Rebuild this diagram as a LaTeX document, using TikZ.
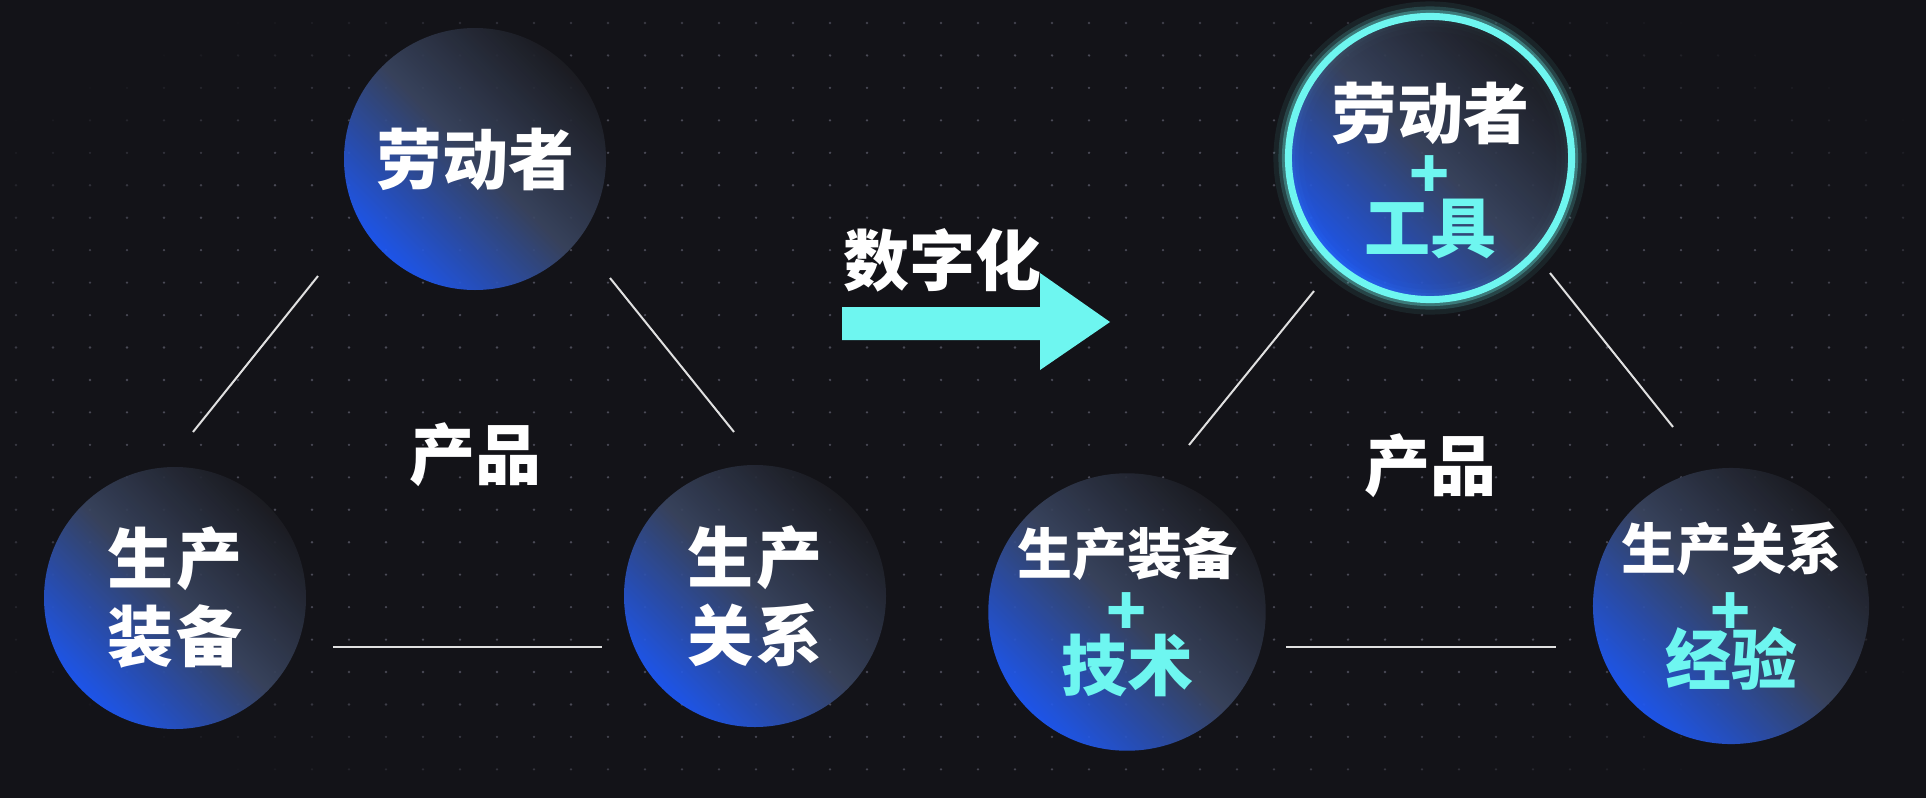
\documentclass[tikz,border=0pt]{standalone}
\usepackage{fontspec}
\newfontfamily\cjk{Noto Sans CJK SC}
\usetikzlibrary{positioning}

\definecolor{night}{HTML}{131318}
\definecolor{aqua}{HTML}{6EF6F0}
\definecolor{orbblue}{HTML}{1F5CFF}
\definecolor{orbgrey}{HTML}{3B4763}
\definecolor{orbdark}{HTML}{1C1D23}
\definecolor{speck}{HTML}{4A4A56}
\newcommand\cyantxt[1]{\textcolor{aqua}{#1}}

\begin{document}
\begin{tikzpicture}[x=1pt, y=-1pt,
  orb/.style={circle, minimum size=262pt, inner sep=0pt, align=center,
              shading=axis, top color=orbdark, bottom color=orbblue,
              middle color=orbgrey, shading angle=-45,
              fill opacity=.9, text opacity=1, text=white,
              font=\cjk\bfseries\fontsize{66}{78}\selectfont},
  lit/.style={orb, draw=aqua, line width=7pt,
              preaction={draw=aqua, line width=30pt, draw opacity=.08},
              preaction={draw=aqua, line width=20pt, draw opacity=.16},
              preaction={draw=aqua, line width=13pt, draw opacity=.3}},
  tag/.style={inner sep=0pt, text=white,
              font=\cjk\bfseries\fontsize{66}{78}\selectfont},
  link/.style={draw=white!88!black, line width=2pt}]
\useasboundingbox (0,0) rectangle (1926,798);
\fill[night] (0,0) rectangle (1926,798);
% dotted grid, fading out toward the corners
\foreach \i in {0,...,52}
  \foreach \j in {0,...,24} {
    \pgfmathsetmacro\dx{16+37*\i}
    \pgfmathsetmacro\dy{23+32.45*\j}
    \pgfmathsetmacro\fade{min(1,max(0,2.2-1.5*(((\dx-963)/963)^2+((\dy-399)/399)^2)))}
    \fill[speck, opacity=\fade] (\dx,\dy) circle[radius=1.3pt];
  }

% before
\node[orb] (c1) at (475,159) {劳动者};
\node[orb] (c2) at (175,598) {生\kern4pt 产\\装\kern4pt 备};
\node[orb] (c3) at (755,596) {生\kern4pt 产\\关\kern4pt 系};
\node[tag, below=132pt of c1] (p1) {产品};
\draw[link] ([shift={(-157,117)}]c1.center) -- ([shift={(18,-166)}]c2.center);
\draw[link] ([shift={(135,119)}]c1.center) -- ([shift={(-21,-164)}]c3.center);
\draw[link] ([shift={(158,49)}]c2.center) -- ([shift={(-153,51)}]c3.center);

% the arrow
\coordinate (shaft) at (842,307);
\fill[aqua] (shaft) -- (1040,307) -- (1040,273) -- (1110,322) -- (1040,370)
  -- (1040,340) -- (842,340) -- cycle;
\node[tag, above right=15pt and 1pt of shaft] (dg) {数字化};

% after
\node[lit] (c4) at (1430,158) {\rule{0pt}{82pt}劳动者\\[-18pt]\cyantxt{+}\\[-24pt]\cyantxt{工具}};
\node[orb] (c5) at (1127,612) {{\fontsize{55}{55}\selectfont 生产装备}\\[-17.5pt]\cyantxt{+}\\[-22.5pt]\cyantxt{技术}};
\node[orb] (c6) at (1731,606) {{\fontsize{55}{55}\selectfont 生产关系}\\[-12pt]\cyantxt{+}\\[-29pt]\cyantxt{经验}};
\node[tag, below=130pt of c4] (p2) {产品};
\draw[link] ([shift={(-116,133)}]c4.center) -- ([shift={(62,-167)}]c5.center);
\draw[link] ([shift={(120,115)}]c4.center) -- ([shift={(-58,-179)}]c6.center);
\draw[link] ([shift={(159,35)}]c5.center) -- ([shift={(-175,41)}]c6.center);
\end{tikzpicture}
\end{document}
